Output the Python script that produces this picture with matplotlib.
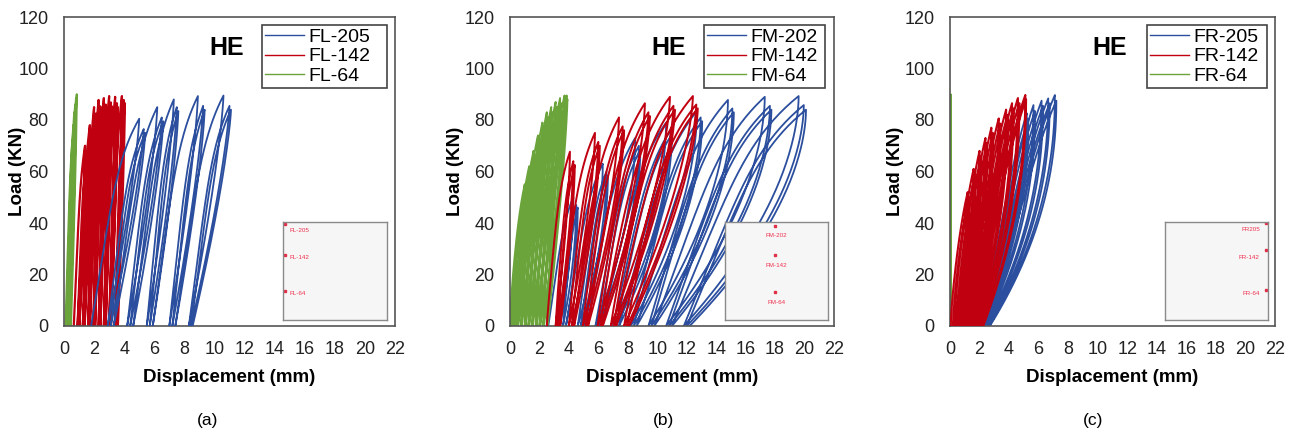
import numpy as np
import matplotlib
matplotlib.use('Agg')
from matplotlib import pyplot as plt

plt.rcParams['font.family'] = ['Liberation Sans', 'DejaVu Sans']

BLUE = '#2b4f9e'
RED = '#c00010'
GREEN = '#6aa43a'

# ---- panel (a): FL specimens (residual disp., peak disp., peak load per cycle)
fl205_res = [1.8, 2.9, 3.1, 3.3, 4.2, 4.4, 4.6, 5.5, 5.7, 5.9, 7.0, 7.2, 7.4, 8.3, 8.45, 8.55]
fl205_tip_x = [5.0, 5.3, 5.4, 6.2, 6.5, 6.6, 7.3, 7.5, 7.6, 8.9, 9.25, 9.35, 10.6, 11.0, 11.1]
fl205_tip_f = [80.5, 76.5, 75.0, 85.0, 81.0, 79.5, 88.0, 85.0, 83.5, 89.3, 85.5, 84.0, 89.5, 85.5, 84.0]

fl142_res = [0.65, 0.90, 0.97, 1.02, 1.25, 1.32, 1.37, 1.60, 1.67, 1.72, 1.95, 2.02, 2.07,
             2.30, 2.37, 2.42, 2.65, 2.72, 2.77, 3.00, 3.07, 3.12, 3.40, 3.50, 3.58]
fl142_tip_x = [1.40, 1.52, 1.58, 1.72, 1.84, 1.90, 2.00, 2.12, 2.18, 2.30, 2.42, 2.48,
               2.65, 2.77, 2.83, 3.00, 3.12, 3.18, 3.40, 3.52, 3.58, 3.85, 3.97, 4.05]
fl142_tip_f = [70, 67.5, 66, 78, 75.5, 74, 85, 82.5, 81, 87.8, 85.3, 83.8,
               88.5, 86, 84.5, 89.3, 86.8, 85.3, 89, 86.5, 85, 89.3, 87.8, 86.5]

fl64_res = [0.10, 0.16, 0.22, 0.28, 0.34, 0.40, 0.46]
fl64_tip_x = [0.55, 0.62, 0.68, 0.74, 0.80, 0.85]
fl64_tip_f = [72, 78, 83, 86, 88.5, 90]

# ---- panel (b): FM specimens
fm202_res = [2.6, 3.4, 3.6, 3.8, 4.6, 4.8, 5.0, 5.8, 6.0, 6.2, 7.0, 7.2, 7.4, 8.2, 8.4, 8.6,
             9.4, 9.6, 9.8, 10.6, 10.8, 11.0, 11.8, 12.0, 12.2]
fm202_tip_x = [4.3, 4.5, 4.6, 6.3, 6.55, 6.65, 8.5, 8.75, 8.85, 10.6, 10.9, 11.0,
               12.7, 12.95, 13.05, 14.8, 15.1, 15.2, 17.3, 17.65, 17.75, 19.6, 19.95, 20.1]
fm202_tip_f = [50, 47, 46, 63, 60, 58.5, 73, 70, 68.5, 79, 76, 74.5,
               83.5, 81, 79.5, 87.8, 84.5, 83, 89, 85.5, 84, 89.3, 85.8, 84]

fm142_res = [2.5, 3.1, 3.25, 3.4, 4.0, 4.2, 4.35, 4.95, 5.15, 5.3, 5.95, 6.15, 6.3,
             6.85, 7.05, 7.2, 7.75, 7.95, 8.1]
fm142_tip_x = [4.07, 4.3, 4.4, 5.77, 6.0, 6.1, 7.4, 7.65, 7.75, 9.16, 9.4, 9.5,
               10.86, 11.1, 11.2, 12.42, 12.65, 12.75]
fm142_tip_f = [67.7, 64, 62.5, 75, 71.5, 70, 81, 77.5, 76, 86.5, 83, 81.5,
               89, 85.5, 84, 89.3, 86, 84.5]

fm64_res = [0.0, 0.1, 0.15, 0.3, 0.35, 0.5, 0.55, 0.75, 0.8, 1.0, 1.05, 1.25, 1.3,
            1.5, 1.55, 1.75, 1.8, 2.0, 2.05, 2.25, 2.3, 2.5, 2.55]
fm64_tip_x = [1.0, 1.08, 1.3, 1.38, 1.6, 1.68, 1.9, 1.98, 2.2, 2.28, 2.5, 2.58,
              2.8, 2.88, 3.1, 3.18, 3.4, 3.48, 3.7, 3.78, 3.85, 3.9]
fm64_tip_f = [55, 53, 62, 60, 68, 66, 74, 72, 79, 77, 83, 81,
              85, 83, 87, 85, 88.5, 86.5, 89.5, 87.5, 89.5, 88]

# ---- panel (c): FR specimens
fr205_res = [2.14, 2.2, 2.26, 2.32, 2.38, 2.44, 2.5, 2.56, 2.62, 2.66, 2.7]
fr205_tip_x = [5.2, 5.3, 5.65, 5.75, 6.2, 6.3, 6.65, 6.75, 7.1, 7.2]
fr205_tip_f = [82.6, 80.5, 85.8, 83.5, 87.5, 85.5, 88.4, 86.5, 89.7, 87.5]

fr142_res = [0.05, 0.2, 0.3, 0.45, 0.55, 0.7, 0.8, 0.95, 1.05, 1.2, 1.3,
             1.45, 1.55, 1.7, 1.8, 1.9, 1.98, 2.06, 2.13, 2.2, 2.25]
fr142_tip_x = [1.2, 1.3, 1.6, 1.7, 2.0, 2.1, 2.4, 2.5, 2.8, 2.9,
               3.3, 3.4, 3.8, 3.9, 4.2, 4.3, 4.6, 4.7, 5.1, 5.15]
fr142_tip_f = [52, 50, 61, 59, 68, 66, 73, 71, 77, 75,
               80.6, 78.6, 84, 82, 86.5, 84.5, 88.5, 86.5, 89.7, 88]

fr64_res = [0.0, 0.01, 0.02, 0.03]
fr64_tip_x = [0.03, 0.04, 0.05]
fr64_tip_f = [88, 89, 90]

panel_tags = ['(a)', '(b)', '(c)']
legend_names = [['FL-205', 'FL-142', 'FL-64'],
                ['FM-202', 'FM-142', 'FM-64'],
                ['FR-205', 'FR-142', 'FR-64']]
inset_names = [['FL-205', 'FL-142', 'FL-64'],
               ['FM-202', 'FM-142', 'FM-64'],
               ['FR205', 'FR-142', 'FR-64']]


def loop_curve(res, tip_x, tip_f, a, c, q):
    # loading branch from residual to peak (rounded top), unloading to next residual
    t = np.linspace(0, 1, 80)
    xs, ys = [], []
    for i in range(len(tip_x)):
        r0, r1, xp, fp = res[i], res[i + 1], tip_x[i], tip_f[i]
        g = (1 - c) * t ** a + c * t ** 6
        xs.append(r0 + (xp - r0) * g)
        ys.append(fp * t)
        tu = t[::-1]
        h = 1 - (1 - tu) ** q
        xs.append(r1 + (xp - r1) * h)
        ys.append(fp * tu)
    return np.concatenate(xs), np.concatenate(ys)


# (series data, colour, a, c, q, line width, zorder)
panels = [
    [((fl205_res, fl205_tip_x, fl205_tip_f), BLUE, 1.0, 0.3, 1.3, 1.3, 3),
     ((fl142_res, fl142_tip_x, fl142_tip_f), RED, 1.0, 0.3, 1.3, 1.6, 2),
     ((fl64_res, fl64_tip_x, fl64_tip_f), GREEN, 1.0, 0.2, 1.3, 1.5, 2)],
    [((fm202_res, fm202_tip_x, fm202_tip_f), BLUE, 1.0, 0.25, 1.8, 1.3, 2),
     ((fm142_res, fm142_tip_x, fm142_tip_f), RED, 1.1, 0.3, 1.5, 1.4, 3),
     ((fm64_res, fm64_tip_x, fm64_tip_f), GREEN, 1.4, 0.15, 1.3, 1.4, 2)],
    [((fr205_res, fr205_tip_x, fr205_tip_f), BLUE, 1.0, 0.1, 2.1, 1.3, 2),
     ((fr142_res, fr142_tip_x, fr142_tip_f), RED, 1.4, 0.1, 2.0, 1.5, 3),
     ((fr64_res, fr64_tip_x, fr64_tip_f), GREEN, 1.0, 0.0, 1.0, 1.3, 2)],
]

W, H = 1299, 434
fig = plt.figure(figsize=(W / 100, H / 100), dpi=100)

# axes boxes in pixels: left, right ; top 17, bottom 326
ax_px = [(64, 395), (510, 834), (950, 1275)]
ylab_x = [-0.115, -0.142, -0.1415]
tag_x = [208, 663, 1093]
inset_px = [(283, 387), (725, 828), (1165, 1268)]
legend_px = [(262, 387), (704, 825), (1147, 1267)]

for k in range(3):
    l, r = ax_px[k]
    ax = fig.add_axes([l / W, (H - 326) / H, (r - l) / W, (326 - 17) / H])
    for (data, col, a, c, q, lw, z), name in zip(panels[k], legend_names[k]):
        x, y = loop_curve(*data, a, c, q)
        ax.plot(x, y, color=col, lw=lw, zorder=z, solid_joinstyle='round')
        ax.plot([], [], color=col, lw=1.0, label=name)

    ax.set_xlim(0, 22)
    ax.set_ylim(0, 120)
    ax.set_xticks(range(0, 23, 2))
    ax.set_yticks(range(0, 121, 20))
    ax.tick_params(length=0, pad=11, labelsize=13, colors='#222222')
    for s in ax.spines.values():
        s.set_color('#555555')
        s.set_linewidth(1.2)
    ax.set_xlabel('Displacement (mm)', fontsize=13.5, fontweight='bold')
    ax.set_ylabel('Load (KN)', fontsize=13.5, fontweight='bold')
    ax.xaxis.set_label_coords(0.5, -0.14)
    ax.yaxis.set_label_coords(ylab_x[k], 0.5)
    ax.text(10.8, 108, 'HE', fontsize=18, fontweight='bold', ha='center', va='center')

    lines = [h for h in ax.get_lines() if h.get_label() in legend_names[k]]
    gl, gr = legend_px[k]
    x0 = (gl - l) / (r - l)
    lw_frac = (gr - gl) / (r - l)
    leg = ax.legend(handles=lines, loc='upper left', mode='expand',
                    bbox_to_anchor=(x0, 0.77, lw_frac, 0.203),
                    fontsize=14, frameon=True, borderaxespad=0,
                    fancybox=False, framealpha=1, edgecolor='#444444',
                    borderpad=0.15, labelspacing=0.1,
                    handlelength=2.0, handletextpad=0.25)
    leg.get_frame().set_linewidth(1.2)

    # small embedded inset picture
    il, ir = inset_px[k]
    ins = ax.inset_axes([(il - l) / (r - l), 0.02, (ir - il) / (r - l), 0.315])
    ins.set_facecolor('#f5f6f5')
    ins.set_xticks([])
    ins.set_yticks([])
    for s in ins.spines.values():
        s.set_color('#8a8a8a')
        s.set_linewidth(1.0)
    names = inset_names[k]
    if k == 0:
        for yy, ty, nm in zip([0.98, 0.67, 0.30], [0.92, 0.64, 0.275], names):
            ins.plot([0.015], [yy], 's', ms=1.5, color='#e0304a', transform=ins.transAxes)
            ins.text(0.06, ty, nm, fontsize=4.5, color='#f03050', va='center',
                     transform=ins.transAxes)
    elif k == 1:
        for yy, ty, nm in zip([0.965, 0.667, 0.29], [0.87, 0.56, 0.18], names):
            ins.plot([0.49], [yy], 's', ms=1.5, color='#e0304a', transform=ins.transAxes)
            ins.text(0.5, ty, nm, fontsize=4.5, color='#f03050', va='center',
                     ha='center', transform=ins.transAxes)
    else:
        for yy, ty, nm in zip([0.99, 0.72, 0.31], [0.93, 0.64, 0.27], names):
            ins.plot([0.985], [yy], 's', ms=1.5, color='#e0304a', transform=ins.transAxes)
            ins.text(0.92, ty, nm, fontsize=4.5, color='#f03050', va='center',
                     ha='right', transform=ins.transAxes)
    ins.set_xlim(0, 1)
    ins.set_ylim(0, 1)

    fig.text(tag_x[k] / W, 1 - 421 / H, panel_tags[k], fontsize=12.5,
             ha='center', va='center')

fig.savefig('out.png', dpi=100)
